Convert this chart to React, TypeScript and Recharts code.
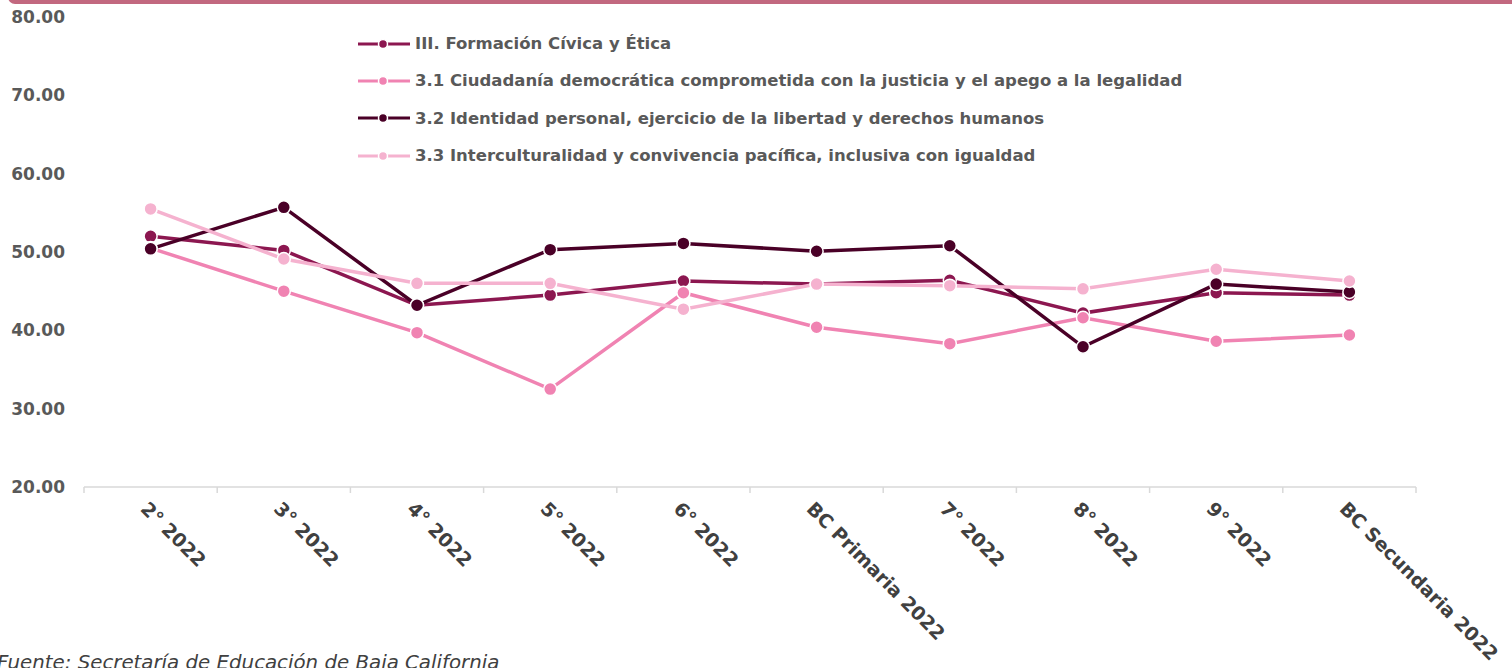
import React from 'react';
import { LineChart, Line, XAxis, YAxis } from 'recharts';

const categories = ['2° 2022', '3° 2022', '4° 2022', '5° 2022', '6° 2022', 'BC Primaria 2022', '7° 2022', '8° 2022', '9° 2022', 'BC Secundaria 2022'];
const serieIII = [52.0, 50.2, 43.2, 44.5, 46.3, 45.9, 46.4, 42.2, 44.8, 44.5];
const serie31 = [50.5, 45.0, 39.7, 32.5, 44.8, 40.4, 38.3, 41.6, 38.6, 39.4];
const serie32 = [50.4, 55.7, 43.2, 50.3, 51.1, 50.1, 50.8, 37.9, 45.9, 44.9];
const serie33 = [55.5, 49.1, 46.0, 46.0, 42.7, 45.9, 45.7, 45.3, 47.8, 46.3];
const yTicks = [20, 30, 40, 50, 60, 70, 80];

const seriesDefs = [
  { key: 's0', name: 'III. Formación Cívica y Ética', color: '#8C1750', values: serieIII },
  { key: 's1', name: '3.1 Ciudadanía democrática comprometida con la justicia y el apego a la legalidad', color: '#F083B2', values: serie31 },
  { key: 's2', name: '3.2 Identidad personal, ejercicio de la libertad y derechos humanos', color: '#4A0027', values: serie32 },
  { key: 's3', name: '3.3 Interculturalidad y convivencia pacífica, inclusiva con igualdad', color: '#F5B2CF', values: serie33 },
];

const data = categories.map((c, i) => {
  const row: any = { cat: c };
  seriesDefs.forEach((s) => { row[s.key] = s.values[i]; });
  return row;
});

const W = 1512;
const H = 668;
const X_H = 181;
const M = { top: 17, right: 96, left: 0, bottom: 0 };
const Y_W = 84;
const PLOT_W = W - M.right - Y_W;
const BAND = PLOT_W / categories.length;
const AXIS_Y = H - X_H;
const FONT = '"DejaVu Sans", sans-serif';

const XTick = (props: any) => {
  const { x, payload, index } = props;
  const half = BAND / 2;
  const ax = x - 11;
  const ay = AXIS_Y + 23;
  return (
    <g>
      <line x1={x - half} y1={AXIS_Y} x2={x - half} y2={AXIS_Y + 6} stroke="#D9D9D9" strokeWidth={1.5} />
      {index === categories.length - 1 && (
        <line x1={x + half} y1={AXIS_Y} x2={x + half} y2={AXIS_Y + 6} stroke="#D9D9D9" strokeWidth={1.5} />
      )}
      <text x={ax} y={ay} transform={`rotate(45, ${ax}, ${ay})`} textAnchor="start" fill="#404040" fontSize={19} fontWeight={700} fontFamily={FONT}>
        {payload.value}
      </text>
    </g>
  );
};

const LegendBox = () => (
  <div style={{ position: 'absolute', left: 358, top: 25, fontFamily: FONT }}>
    {seriesDefs.map((s) => (
      <div key={s.key} style={{ display: 'flex', alignItems: 'center', height: 37.3 }}>
        <svg width={57} height={12} style={{ flex: 'none' }}>
          <line x1={0} y1={6} x2={52} y2={6} stroke={s.color} strokeWidth={3} />
          <circle cx={25} cy={6} r={4.5} fill={s.color} stroke="#fff" strokeWidth={1.5} />
        </svg>
        <span style={{ color: '#595959', fontSize: 16.5, fontWeight: 700, whiteSpace: 'nowrap' }}>{s.name}</span>
      </div>
    ))}
  </div>
);

export default function App() {
  return (
    <div style={{ position: 'absolute', left: 0, top: 0, width: W, height: H, overflow: 'hidden', background: '#fff', fontFamily: FONT }}>
      <div style={{ position: 'absolute', left: 8, top: -10, width: W, height: 14, borderRadius: 10, background: '#C2687F' }} />
      <LineChart width={W} height={H} data={data} margin={M}>
        <XAxis
          dataKey="cat"
          interval={0}
          padding={{ left: BAND / 2, right: BAND / 2 }}
          axisLine={{ stroke: '#D9D9D9', strokeWidth: 1.5 }}
          tickLine={false}
          tickSize={0}
          height={X_H}
          tick={<XTick />}
        />
        <YAxis
          width={Y_W}
          domain={[20, 80]}
          ticks={yTicks}
          interval={0}
          axisLine={false}
          tickLine={false}
          tickSize={0}
          tickMargin={19}
          tickFormatter={(v: number) => v.toFixed(2)}
          tick={{ fill: '#595959', fontSize: 17, fontWeight: 600, fontFamily: FONT }}
        />
        {seriesDefs.map((s) => (
          <Line
            key={s.key}
            dataKey={s.key}
            name={s.name}
            stroke={s.color}
            strokeWidth={3.5}
            dot={{ r: 6.5, fill: s.color, stroke: '#fff', strokeWidth: 1.5 }}
            activeDot={false}
            isAnimationActive={false}
          />
        ))}
      </LineChart>
      <LegendBox />
      <div style={{ position: 'absolute', left: -3, top: 651, fontFamily: FONT, fontStyle: 'italic', fontSize: 19.8, color: '#404040', whiteSpace: 'nowrap' }}>
        Fuente: Secretaría de Educación de Baja California
      </div>
    </div>
  );
}
